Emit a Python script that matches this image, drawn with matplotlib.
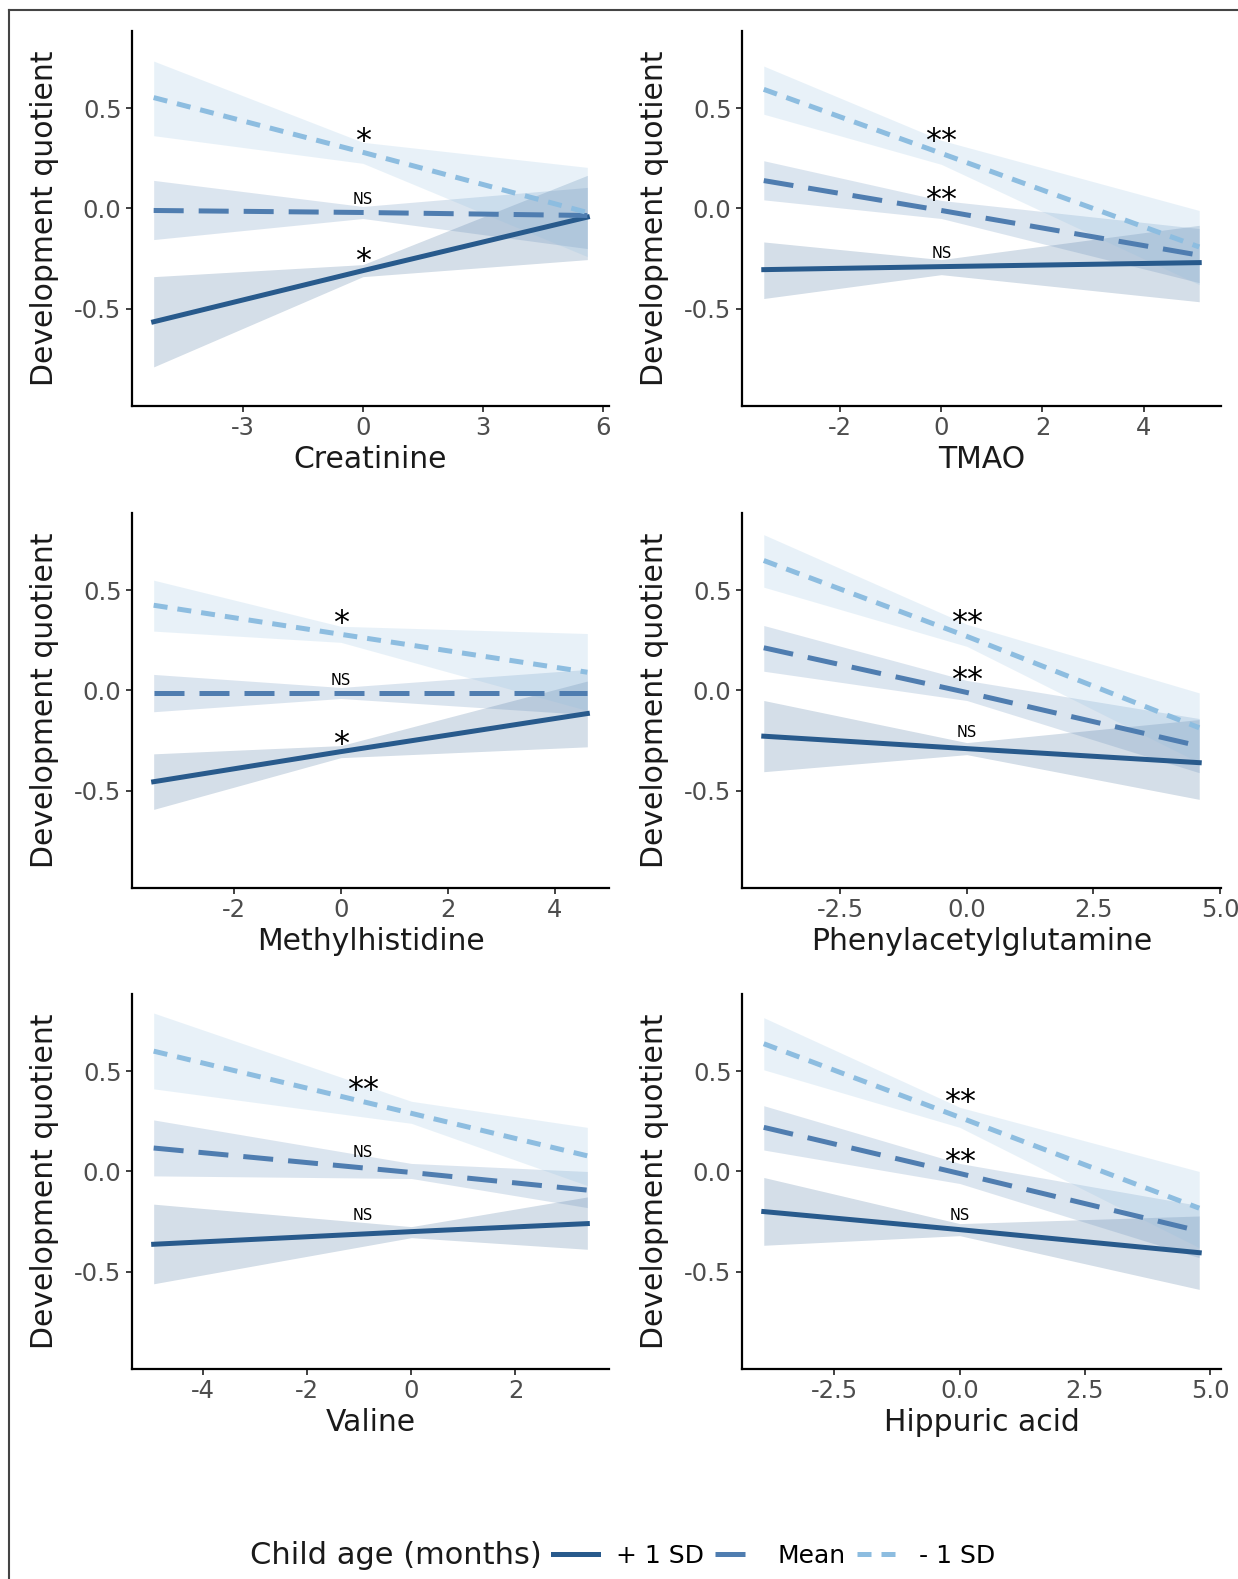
import numpy as np
import matplotlib
matplotlib.use("Agg")
import matplotlib.pyplot as plt
from matplotlib.lines import Line2D

# ---- data ----
metabolites = ["Creatinine", "TMAO", "Methylhistidine",
               "Phenylacetylglutamine", "Valine", "Hippuric acid"]
x_min = [-5.22, -3.51, -3.50, -4.01, -4.95, -3.91]
x_max = [5.60, 5.10, 4.61, 4.59, 3.38, 4.78]
x_ticks = [[-3, 0, 3, 6], [-2, 0, 2, 4], [-2, 0, 2, 4],
           [-2.5, 0.0, 2.5, 5.0], [-4, -2, 0, 2], [-2.5, 0.0, 2.5, 5.0]]
x_ticklabels = [["-3", "0", "3", "6"], ["-2", "0", "2", "4"], ["-2", "0", "2", "4"],
                ["-2.5", "0.0", "2.5", "5.0"], ["-4", "-2", "0", "2"],
                ["-2.5", "0.0", "2.5", "5.0"]]

# predictions at (x_min, 0, x_max)
plus_fit = [[-0.565, -0.31, -0.043], [-0.305, -0.29, -0.27], [-0.455, -0.305, -0.115],
            [-0.228, -0.29, -0.36], [-0.363, -0.30, -0.26], [-0.20, -0.29, -0.405]]
plus_lo = [[-0.79, -0.34, -0.255], [-0.449, -0.33, -0.465], [-0.593, -0.335, -0.281],
           [-0.405, -0.32, -0.543], [-0.56, -0.33, -0.388], [-0.368, -0.32, -0.588]]
plus_hi = [[-0.34, -0.28, 0.165], [-0.167, -0.255, -0.084], [-0.316, -0.275, 0.047],
           [-0.05, -0.26, -0.145], [-0.163, -0.275, -0.127], [-0.03, -0.26, -0.222]]

mean_fit = [[-0.01, -0.02, -0.035], [0.139, -0.01, -0.233], [-0.012, -0.012, -0.012],
            [0.213, -0.01, -0.277], [0.117, -0.005, -0.093], [0.22, -0.01, -0.297]]
mean_lo = [[-0.155, -0.05, -0.20], [0.043, -0.05, -0.37], [-0.106, -0.04, -0.12],
           [0.096, -0.05, -0.41], [-0.022, -0.035, -0.18], [0.107, -0.06, -0.43]]
mean_hi = [[0.14, 0.01, 0.105], [0.238, 0.04, -0.10], [0.08, 0.015, 0.105],
           [0.324, 0.05, -0.14], [0.257, 0.04, 0.0], [0.328, 0.04, -0.17]]

minus_fit = [[0.553, 0.28, -0.02], [0.594, 0.275, -0.192], [0.425, 0.28, 0.091],
             [0.648, 0.27, -0.186], [0.60, 0.29, 0.078], [0.637, 0.27, -0.183]]
minus_lo = [[0.363, 0.225, -0.24], [0.47, 0.22, -0.38], [0.296, 0.24, -0.10],
            [0.515, 0.22, -0.36], [0.412, 0.24, -0.07], [0.507, 0.22, -0.38]]
minus_hi = [[0.735, 0.33, 0.205], [0.71, 0.34, -0.01], [0.55, 0.32, 0.284],
            [0.777, 0.33, -0.012], [0.79, 0.35, 0.22], [0.767, 0.32, 0.0]]

# significance labels (from top: -1 SD, Mean, +1 SD)
annot_x = [0, 0, 0, 0, -0.93, 0]
annot_text = [["*", "NS", "*"], ["**", "**", "NS"], ["*", "NS", "*"],
              ["**", "**", "NS"], ["**", "NS", "NS"], ["**", "**", "NS"]]
annot_y = [[0.29, 0.023, -0.305], [0.29, -0.005, -0.247], [0.29, 0.028, -0.31],
           [0.29, 0.005, -0.233], [0.36, 0.073, -0.243], [0.30, 0.0, -0.243]]

group_labels = ["+ 1 SD", "Mean", "- 1 SD"]
colors = ["#285a8c", "#4f7db0", "#8dbde0"]
styles = ["-", (0, (6, 3)), (0, (2.8, 2))]
y_limits = (-0.9, 0.8)

W, H = 1238, 1579
fig = plt.figure(figsize=(W / 100, H / 100), dpi=100)

# panel boxes in pixels: left, top, right, bottom
col_x = [(132, 609), (742, 1221)]
row_y = [(31, 406), (513, 888), (994, 1369)]

lw = 3.6
for k in range(6):
    r, c = divmod(k, 2)
    x0, x1 = col_x[c]
    y0, y1 = row_y[r]
    ax = fig.add_axes([x0 / W, 1 - y1 / H, (x1 - x0) / W, (y1 - y0) / H])
    xs = [x_min[k], 0, x_max[k]]
    fits = [plus_fit[k], mean_fit[k], minus_fit[k]]
    los = [plus_lo[k], mean_lo[k], minus_lo[k]]
    his = [plus_hi[k], mean_hi[k], minus_hi[k]]
    for g in range(3):
        ax.fill_between(xs, los[g], his[g], color=colors[g], alpha=0.2,
                        linewidth=0, zorder=1)
    for g in range(3):
        ax.plot(xs, fits[g], color=colors[g], linestyle=styles[g], linewidth=lw,
                dash_capstyle="butt", zorder=3)
    for j in range(3):
        t = annot_text[k][j]
        ax.text(annot_x[k], annot_y[k][j], t, ha="center", va="baseline",
                fontsize=23 if "*" in t else 10.5, color="black", zorder=4)

    rng = x_max[k] - x_min[k]
    ax.set_xlim(x_min[k] - 0.05 * rng, x_max[k] + 0.05 * rng)
    yr = y_limits[1] - y_limits[0]
    ax.set_ylim(y_limits[0] - 0.05 * yr, y_limits[1] + 0.05 * yr)
    ax.set_xticks(x_ticks[k])
    ax.set_xticklabels(x_ticklabels[k])
    ax.set_yticks([-0.5, 0.0, 0.5])
    ax.set_yticklabels(["-0.5", "0.0", "0.5"])
    for s in ["top", "right"]:
        ax.spines[s].set_visible(False)
    for s in ["left", "bottom"]:
        ax.spines[s].set_linewidth(1.6)
        ax.spines[s].set_color("black")
    ax.tick_params(axis="both", length=4.5, width=1.3, color="#333333",
                   labelsize=17.5, labelcolor="#4d4d4d", pad=3)
    ax.set_xlabel(metabolites[k], fontsize=21.5, color="#1a1a1a")
    ax.set_ylabel("Development quotient", fontsize=21.5, color="#1a1a1a")
    ax.xaxis.set_label_coords(0.5, -0.105)
    ax.yaxis.set_label_coords(-0.153, 0.5)

# legend along the bottom
handles = [Line2D([], [], color=colors[g], linestyle=styles[g], linewidth=lw,
                  dash_capstyle="butt") for g in range(3)]
leg_y = 1 - 1556 / H
fig.text(250 / W, leg_y, "Child age (months)", fontsize=22, color="#1a1a1a",
         ha="left", va="center")
fig.legend(handles, group_labels, loc="center left",
           bbox_to_anchor=(553 / W, leg_y), ncol=3, frameon=False,
           fontsize=18, handlelength=1.8, handletextpad=0.7,
           columnspacing=0.45, borderpad=0, borderaxespad=0)

# thin frame on the left and top edges
fig.add_artist(Line2D([8.5 / W, 8.5 / W], [0, 1 - 10 / H], color="#444444",
                      linewidth=1.5, transform=fig.transFigure))
fig.add_artist(Line2D([8.5 / W, 1], [1 - 10 / H, 1 - 10 / H], color="#444444",
                      linewidth=1.5, transform=fig.transFigure))

fig.savefig("out.png", dpi=100, facecolor="white")
